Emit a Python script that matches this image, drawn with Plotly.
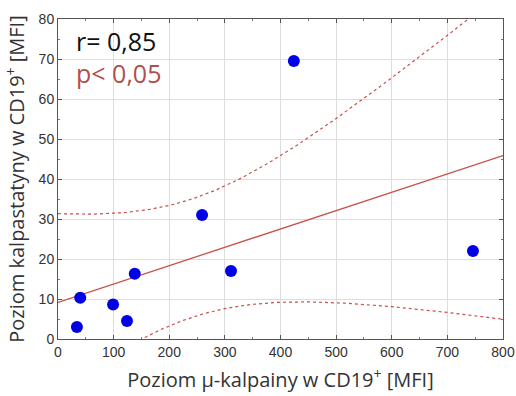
import numpy as np
import plotly.graph_objects as go

# Data
mu_kalpaina = [34, 40, 99, 124, 138, 259, 311, 424, 746]
kalpastatyna = [3.0, 10.3, 8.6, 4.5, 16.3, 31.0, 17.0, 69.5, 22.0]
x_ticks = [0, 100, 200, 300, 400, 500, 600, 700, 800]
y_ticks = [0, 10, 20, 30, 40, 50, 60, 70, 80]
r_text = "r= 0,85"
p_text = "p< 0,05"
T_CRIT = 2.365  # t(0.975, df=7)

x = np.array(mu_kalpaina, float)
y = np.array(kalpastatyna, float)
n = len(x)
slope, intercept = np.polyfit(x, y, 1)
resid = y - (slope * x + intercept)
s = np.sqrt(np.sum(resid ** 2) / (n - 2))
sxx = np.sum((x - x.mean()) ** 2)
xs = np.linspace(0, 800, 161)
fit = slope * xs + intercept
se = s * np.sqrt(1 / n + (xs - x.mean()) ** 2 / sxx)
upper = fit + T_CRIT * se
lower = fit - T_CRIT * se

red = "#c9504c"
fig = go.Figure()
fig.add_trace(go.Scatter(x=xs, y=upper, mode="lines",
                         line=dict(color=red, width=1.2, dash="dot"), hoverinfo="skip"))
fig.add_trace(go.Scatter(x=xs, y=lower, mode="lines",
                         line=dict(color=red, width=1.2, dash="dot"), hoverinfo="skip"))
fig.add_trace(go.Scatter(x=xs, y=fit, mode="lines",
                         line=dict(color=red, width=1.3)))
fig.add_trace(go.Scatter(x=x, y=y, mode="markers",
                         marker=dict(color="#0000e6", size=12)))

fig.update_layout(
    width=516, height=396,
    margin=dict(l=58, r=13, t=19, b=57),
    paper_bgcolor="white", plot_bgcolor="white",
    showlegend=False,
    font=dict(family="Liberation Sans, Arial", color="#333333"),
)
axis_common = dict(
    showgrid=True, gridcolor="#dddddd", gridwidth=1,
    showline=True, linecolor="#555555", linewidth=1, mirror="ticks",
    ticks="inside", ticklen=4, tickcolor="#555555",
    tickfont=dict(size=14, color="#333333", family="Liberation Sans, Arial"),
    zeroline=False, automargin=False,
    minor=dict(ticks="inside", ticklen=2, tickcolor="#777777", nticks=5),
)
fig.update_xaxes(range=[0, 800], tickvals=x_ticks, **axis_common,
                 title=dict(text="Poziom µ-kalpainy w CD19<sup>+</sup> [MFI]",
                            font=dict(size=20, family="Open Sans", color="#333333"),
                            standoff=14))
fig.update_yaxes(range=[0, 80], tickvals=y_ticks, **axis_common,
                 title=dict(text="Poziom kalpastatyny w CD19<sup>+</sup> [MFI]",
                            font=dict(size=20, family="Open Sans", color="#333333"),
                            standoff=8))
fig.add_annotation(x=0.035, y=0.93, xref="paper", yref="paper", text=r_text,
                   showarrow=False, xanchor="left", yanchor="middle",
                   font=dict(size=25, family="Open Sans", color="#111111"))
fig.add_annotation(x=0.035, y=0.83, xref="paper", yref="paper", text=p_text,
                   showarrow=False, xanchor="left", yanchor="middle",
                   font=dict(size=25, family="Open Sans", color="#b0504c"))
fig.write_html("out.html")
